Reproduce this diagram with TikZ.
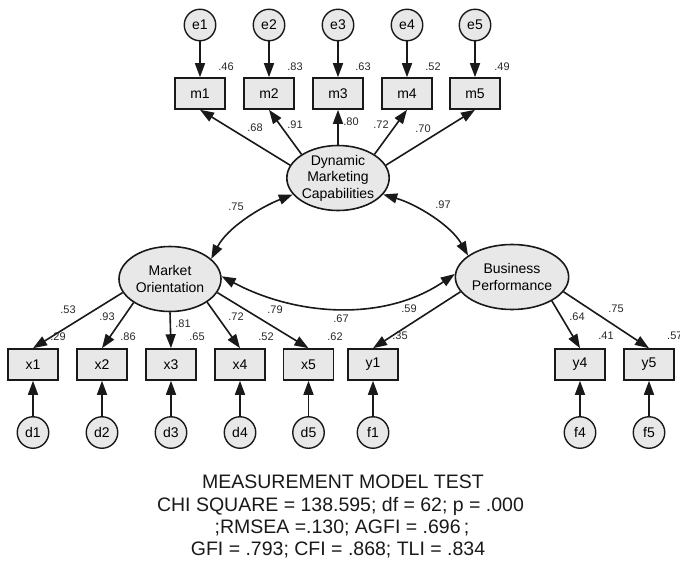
\documentclass[tikz,border=0pt]{standalone}
\usepackage{fontspec}
\setmainfont{Liberation Sans}
\usetikzlibrary{arrows.meta,shapes.geometric}
\definecolor{boxfill}{RGB}{232,232,232}
\definecolor{ink}{RGB}{25,25,25}
\definecolor{lbltxt}{RGB}{40,40,40}
\begin{document}
\begin{tikzpicture}[x=1pt,y=-1pt,
  obs/.style={rectangle,draw=ink,line width=1.6pt,fill=boxfill,minimum width=50pt,minimum height=31pt,inner sep=0pt,font=\fontsize{14}{17}\selectfont},
  lat/.style={ellipse,draw=ink,line width=1.6pt,fill=boxfill,minimum width=102pt,minimum height=65pt,inner xsep=0pt,inner ysep=-4pt,align=center,font=\fontsize{14}{16.5}\selectfont},
  err/.style={circle,draw=ink,line width=1.4pt,fill=boxfill,minimum size=31.5pt,inner sep=0pt,font=\fontsize{14}{17}\selectfont},
  load/.style={draw=ink,line width=1.6pt,-{Triangle[length=14pt,width=10pt]}},
  cov/.style={draw=ink,line width=1.6pt,{Triangle[length=14pt,width=10pt]}-{Triangle[length=14pt,width=10pt]}},
  est/.style={font=\fontsize{11}{13}\selectfont,text=lbltxt,inner sep=0pt},
  fitline/.style={font=\fontsize{19.5}{22.5}\selectfont,text=ink,inner sep=0pt,anchor=base}
]
\useasboundingbox (0,0) rectangle (680,560);

% latent constructs
\node[lat] (DMC) at (338,178) {Dynamic\\Marketing\\Capabilities};
\node[lat] (MO)  at (170,279) {Market\\Orientation};
\node[lat] (BP)  at (512,277) {Business\\Performance};

% indicators of Dynamic Marketing Capabilities and their errors
\foreach \i/\x in {1/200,2/269,3/338,4/407,5/475}{
  \node[obs] (m\i) at (\x,93.5) {m\i};
  \node[err] (e\i) at (\x,25) {e\i};
  \draw[load] (e\i.south) -- (m\i.north);
}

% indicators of Market Orientation and their errors
\foreach \i/\x in {1/33,2/102,3/171,4/240,5/308.5}{
  \node[obs] (x\i) at (\x,364.5) {x\i};
  \node[err] (d\i) at (\x,432.5) {d\i};
  \draw[load] (d\i.north) -- (x\i.south);
}

% indicators of Business Performance and their errors
\foreach \i/\x in {1/373,4/580,5/649}{
  \node[obs] (y\i) at (\x,364.5) {y\i};
  \node[err] (f\i) at (\x,432.5) {f\i};
  \draw[load] (f\i.north) -- (y\i.south);
}

% factor loadings
\draw[load] (DMC.165) -- (m1.south);
\draw[load] (DMC.147) -- (m2.south);
\draw[load] (DMC.90)  -- (m3.south);
\draw[load] (DMC.33)  -- (m4.south);
\draw[load] (DMC.15)  -- (m5.south);

\draw[load] (MO.196) -- (x1.north);
\draw[load] (MO.213) -- (x2.north);
\draw[load] (MO.270) -- (x3.north);
\draw[load] (MO.328) -- (x4.north);
\draw[load] (MO.344) -- (x5.north);

\draw[load] (BP.196) -- (y1.north);
\draw[load] (BP.329) -- (y4.north);
\draw[load] (BP.344) -- (y5.north);

% correlations between constructs
\draw[cov] (DMC.200) .. controls +(-33,13) and +(16,-31) .. (MO.26);
\draw[cov] (DMC.340) .. controls +(34,10) and +(-17,-30) .. (BP.154);
\draw[cov] (MO.3) .. controls +(75,40) and +(-70,48) .. (BP.177);

% squared multiple correlations
\node[est] (r1) at (226,67) {.46};
\node[est] (r2) at (295,67) {.83};
\node[est] (r3) at (363,67) {.63};
\node[est] (r4) at (433,67) {.52};
\node[est] (r5) at (502,67) {.49};
\node[est] (rx1) at (58,337) {.29};
\node[est] (rx2) at (128,337) {.86};
\node[est] (rx3) at (197,337) {.65};
\node[est] (rx4) at (266,337) {.52};
\node[est] (rx5) at (335,337) {.62};
\node[est] (ry1) at (400,336) {.35};
\node[est] (ry4) at (606,336) {.41};
\node[est,anchor=west] (ry5) at (667,336) {.57};

% standardized loadings
\node[est] (lm1) at (255,128) {.68};
\node[est] (lm2) at (295,125) {.91};
\node[est] (lm3) at (351,122) {.80};
\node[est] (lm4) at (381,125) {.72};
\node[est] (lm5) at (423,129) {.70};
\node[est] (lx1) at (68,310) {.53};
\node[est] (lx2) at (107,317) {.93};
\node[est] (lx3) at (183,324) {.81};
\node[est] (lx4) at (236,317) {.72};
\node[est] (lx5) at (275,310) {.79};
\node[est] (ly1) at (409,309) {.59};
\node[est] (ly4) at (577,317) {.64};
\node[est] (ly5) at (616,309) {.75};

% correlation estimates
\node[est] (c1) at (236,207) {.75};
\node[est] (c2) at (443,205) {.97};
\node[est] (c3) at (341,319) {.67};

% fit statistics
\node[fitline] (t1) at (343,488) {MEASUREMENT MODEL TEST};
\node[fitline] (t2) at (340.5,511) {CHI SQUARE = 138.595; df = 62; p = .000};
\node[fitline] (t3) at (342,533) {;RMSEA =.130; AGFI = .696\,;};
\node[fitline] (t4) at (338,555) {GFI = .793; CFI = .868; TLI = .834};
\end{tikzpicture}
\end{document}
